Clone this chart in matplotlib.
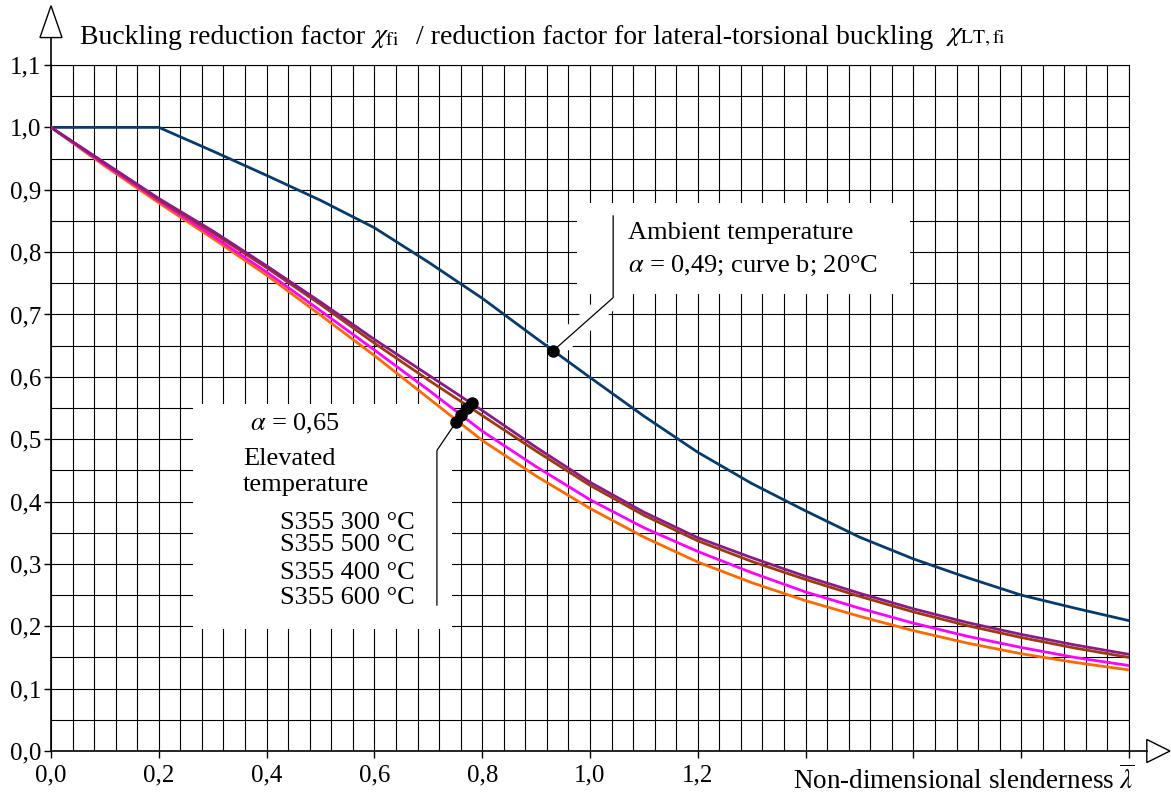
import numpy as np
import matplotlib
matplotlib.use("Agg")
import matplotlib.pyplot as plt
from matplotlib.patches import Polygon, Rectangle
import matplotlib.patheffects as pe

plt.rcParams['font.family'] = ['Liberation Serif', 'DejaVu Serif']
plt.rcParams['mathtext.fontset'] = 'stix'

# slenderness values (x)
slenderness = [0.0, 0.1, 0.2, 0.3, 0.4, 0.5, 0.6, 0.7, 0.8, 0.9, 1.0,
               1.1, 1.2, 1.3, 1.4, 1.5, 1.6, 1.7, 1.8, 1.9, 2.0]

# ambient temperature, curve b, alpha = 0.49
chi_ambient = [1.000, 1.000, 1.000, 0.962, 0.923, 0.883, 0.839, 0.784, 0.726, 0.662, 0.599,
               0.537, 0.479, 0.429, 0.385, 0.343, 0.308, 0.278, 0.250, 0.229, 0.209]

# elevated temperature, alpha = 0.65 (S355)
chi_300 = [1.000, 0.943, 0.886, 0.834, 0.778, 0.720, 0.660, 0.603, 0.546, 0.487, 0.431,
           0.383, 0.342, 0.310, 0.280, 0.253, 0.228, 0.206, 0.187, 0.170, 0.155]
chi_500 = [1.000, 0.942, 0.884, 0.831, 0.775, 0.716, 0.654, 0.595, 0.538, 0.481, 0.426,
           0.378, 0.337, 0.304, 0.275, 0.248, 0.223, 0.201, 0.182, 0.165, 0.150]
chi_400 = [1.000, 0.940, 0.882, 0.826, 0.768, 0.706, 0.643, 0.579, 0.513, 0.456, 0.403,
           0.358, 0.320, 0.286, 0.255, 0.229, 0.205, 0.184, 0.166, 0.150, 0.137]
chi_600 = [1.000, 0.938, 0.879, 0.822, 0.763, 0.699, 0.634, 0.566, 0.498, 0.441, 0.389,
           0.343, 0.303, 0.270, 0.241, 0.216, 0.193, 0.173, 0.156, 0.142, 0.130]

# marked points (callout dots)
dot_ambient = (0.932, 0.642)
dots_elevated_x = [0.752, 0.760, 0.772, 0.781]
dots_elevated_y = [0.528, 0.538, 0.550, 0.558]

x_major = [0.0, 0.2, 0.4, 0.6, 0.8, 1.0, 1.2, 1.4, 1.6, 1.8, 2.0]
x_labels = ["0,0", "0,2", "0,4", "0,6", "0,8", "1,0", "1,2", "", "", "", ""]
y_major = [0.0, 0.1, 0.2, 0.3, 0.4, 0.5, 0.6, 0.7, 0.8, 0.9, 1.0, 1.1]
y_labels = ["0,0", "0,1", "0,2", "0,3", "0,4", "0,5", "0,6", "0,7", "0,8", "0,9", "1,0", "1,1"]

fig = plt.figure(figsize=(11.71, 7.95), dpi=100)
ax = fig.add_axes([51 / 1171, 1 - 751 / 795, (1129 - 51) / 1171, (751 - 65) / 795])
ax.set_xlim(0, 2.0)
ax.set_ylim(0, 1.1)

# grid
ax.set_xticks(x_major)
ax.set_xticklabels(x_labels)
ax.set_xticks(np.arange(0, 2.0001, 0.04), minor=True)
ax.set_yticks(y_major)
ax.set_yticklabels(y_labels)
ax.set_yticks(np.arange(0, 1.1001, 0.05), minor=True)
ax.set_axisbelow(True)
ax.grid(True, which='both', color='black', linewidth=0.8)
ax.tick_params(which='minor', length=0)
ax.tick_params(which='major', length=5, width=1, direction='out', labelsize=18)
ax.tick_params(axis='x', pad=5)
ax.tick_params(axis='y', pad=2)
for side in ['top', 'right']:
    ax.spines[side].set_linewidth(0.8)
for side in ['left', 'bottom']:
    ax.spines[side].set_linewidth(1.2)

# white label boxes
ax.add_patch(Rectangle((0.976, 0.733), 0.618, 0.145, facecolor='white', edgecolor='none', zorder=1))
ax.add_patch(Rectangle((0.263, 0.196), 0.481, 0.361, facecolor='white', edgecolor='none', zorder=1))

# leader lines with white halo
halo = [pe.withStroke(linewidth=14, foreground='white')]
ax.plot([dot_ambient[0], 1.043, 1.043], [dot_ambient[1], 0.727, 0.859], color='black',
        linewidth=0.9, zorder=1.5, path_effects=halo, solid_capstyle='butt')
ax.plot([dots_elevated_x[0], 0.716, 0.716], [dots_elevated_y[0], 0.482, 0.233], color='black',
        linewidth=0.9, zorder=1.5, path_effects=halo, solid_capstyle='butt')

# curves
ax.plot(slenderness, chi_ambient, color='#073B6B', linewidth=2.0, zorder=3)
ax.plot(slenderness, chi_600, color='#FF6A00', linewidth=2.0, zorder=3)
ax.plot(slenderness, chi_400, color='#FF00FF', linewidth=2.0, zorder=3)
ax.plot(slenderness, chi_500, color='#9E3A0E', linewidth=2.0, zorder=3)
ax.plot(slenderness, chi_300, color='#8A1A8A', linewidth=2.0, zorder=3)

ax.plot([dot_ambient[0]], [dot_ambient[1]], 'o', color='black', markersize=8, zorder=4)
ax.plot(dots_elevated_x, dots_elevated_y, 'o', color='black', markersize=8, zorder=4)

# texts
ax.text(1.071, 0.830, "Ambient temperature", fontsize=19, va='center', ha='left', zorder=5)
ax.text(1.071, 0.778, r"$\alpha$ = 0,49; curve b; 20°C", fontsize=19, va='center', ha='left', zorder=5)
ax.text(0.369, 0.524, r"$\alpha$ = 0,65", fontsize=19, va='center', ha='left', zorder=5)
ax.text(0.356, 0.469, "Elevated", fontsize=19, va='center', ha='left', zorder=5)
ax.text(0.356, 0.426, "temperature", fontsize=19, va='center', ha='left', zorder=5)
for yy, lab in zip([0.366, 0.330, 0.285, 0.245],
                   ["S355 300 °C", "S355 500 °C", "S355 400 °C", "S355 600 °C"]):
    ax.text(0.425, yy, lab, fontsize=19, va='center', ha='left', zorder=5)

ax.text(2.01, -0.047, r"Non-dimensional slenderness $\overline{\lambda}$", fontsize=19.5,
        va='center', ha='right', clip_on=False)

ty = 1 - 37 / 795
fig.text(80 / 1171, ty, "Buckling reduction factor", fontsize=20, va='center', ha='left')
fig.text(370 / 1171, ty, r"$\chi_{\mathrm{fi}}$", fontsize=20, va='center', ha='left')
fig.text(416 / 1171, ty, "/ reduction factor for lateral-torsional buckling",
         fontsize=20, va='center', ha='left')
fig.text(945 / 1171, ty, r"$\chi_{\mathrm{LT,fi}}$", fontsize=20, va='center', ha='left')

# axis arrows
ax.plot([0, 0], [1.1, 1.144], color='black', linewidth=1.2, clip_on=False)
ax.add_patch(Polygon([[-0.0205, 1.144], [0.0205, 1.144], [0, 1.195]], closed=True,
                     facecolor='white', edgecolor='black', linewidth=1.0, clip_on=False))
ax.plot([2.0, 2.033], [0, 0], color='black', linewidth=1.2, clip_on=False)
ax.add_patch(Polygon([[2.033, -0.0185], [2.033, 0.0185], [2.076, 0]], closed=True,
                     facecolor='white', edgecolor='black', linewidth=1.0, clip_on=False))

fig.savefig("out.png", dpi=100)
